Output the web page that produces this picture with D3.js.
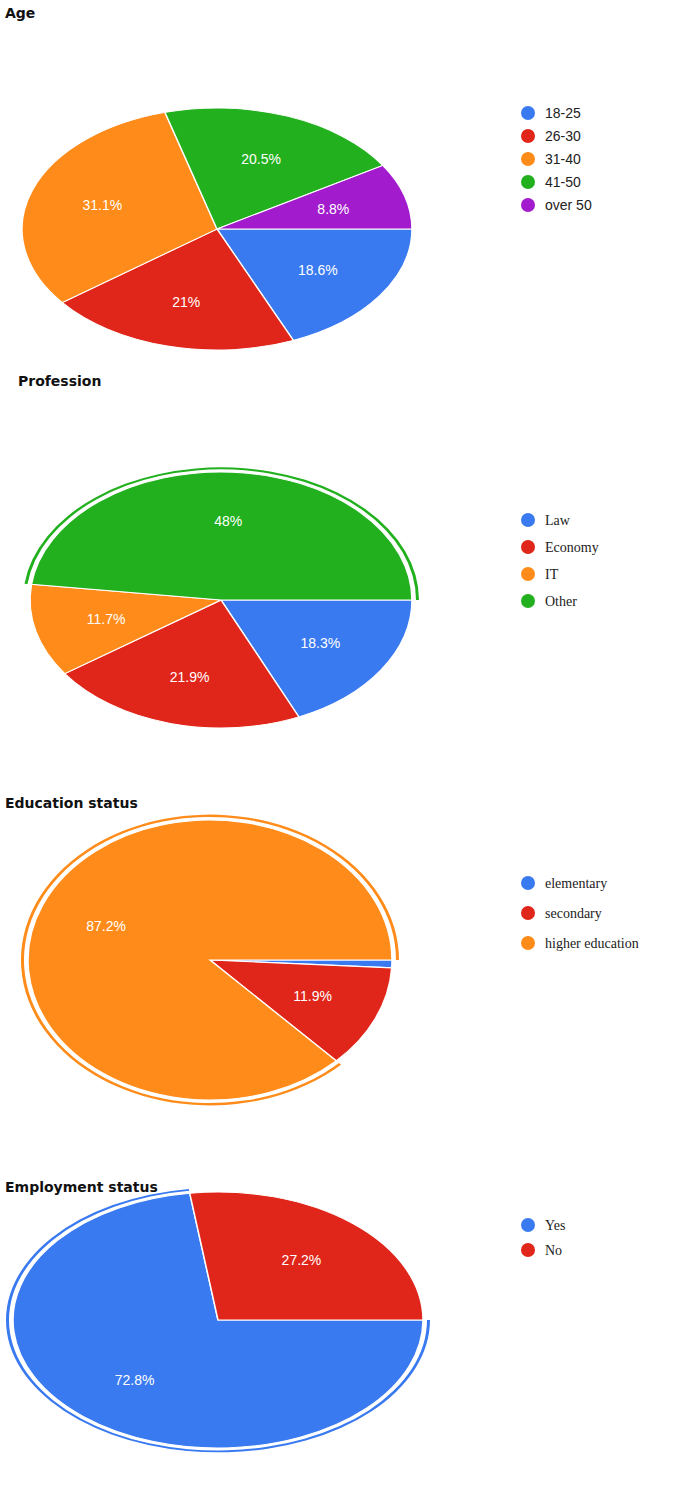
<!DOCTYPE html>
<html><head><meta charset="utf-8">
<script src="https://cdn.jsdelivr.net/npm/d3@7"></script>
<style>body{margin:0;background:#fff}</style></head>
<body><svg id="c" width="685" height="1496"></svg>
<script>
const ageLabels=["18-25","26-30","31-40","41-50","over 50"];
const ageValues=[18.6,21,31.1,20.5,8.8];
const profLabels=["Law","Economy","IT","Other"];
const profValues=[18.3,21.9,11.7,48];
const eduLabels=["elementary","secondary","higher education"];
const eduValues=[0.9,11.9,87.2];
const empLabels=["Yes","No"];
const empValues=[72.8,27.2];
const colors=["#3a7af0","#e0261a","#ff8c1a","#22b01e","#a21bcc"];
const svg=d3.select("#c");
function chart(o){
  svg.append("text").attr("x",o.tx).attr("y",o.ty).text(o.title)
    .attr("font-family","DejaVu Sans").attr("font-weight","bold").attr("font-size",14).attr("fill","#111");
  const g=svg.append("g").attr("transform",`translate(${o.cx},${o.cy}) scale(1,${o.ry/o.rx})`);
  const pie=d3.pie().sort(null).value(d=>d).startAngle(Math.PI/2).endAngle(Math.PI/2+2*Math.PI);
  const arcs=pie(o.values);
  const arc=d3.arc().innerRadius(0).outerRadius(o.rx);
  g.selectAll("path.s").data(arcs).join("path").attr("d",arc)
    .attr("fill",(d,i)=>colors[i]).attr("stroke","#fff").attr("stroke-width",1.5);
  if(o.hl!=null){
    const a=arcs[o.hl];
    g.append("path").attr("d",d3.arc().innerRadius(o.rx+4).outerRadius(o.rx+7)(a)).attr("fill",colors[o.hl]);
  }
  arcs.forEach((a,i)=>{
    if(o.values[i]<3) return;
    const m=(a.startAngle+a.endAngle)/2, r=o.rx*0.62;
    svg.append("text").attr("x",o.cx+r*Math.sin(m)).attr("y",o.cy-r*Math.cos(m)*o.ry/o.rx+5)
      .attr("text-anchor","middle").attr("fill","#fff").attr("font-family","Liberation Sans").attr("font-size",14)
      .text(o.values[i]+"%");
  });
  o.labels.forEach((l,i)=>{
    const y=o.ly+i*o.ls;
    svg.append("circle").attr("cx",528).attr("cy",y).attr("r",7).attr("fill",colors[i]);
    svg.append("text").attr("x",545).attr("y",y+5).text(l).attr("font-family",o.lf).attr("font-size",14).attr("fill","#222");
  });
}
chart({title:"Age",tx:5,ty:18,cx:217,cy:229,rx:195,ry:121,values:ageValues,labels:ageLabels,ly:113,ls:23,lf:"Liberation Sans"});
chart({title:"Profession",tx:18,ty:386,cx:221,cy:600,rx:191,ry:128,values:profValues,labels:profLabels,ly:520,ls:27,lf:"Liberation Serif",hl:3});
chart({title:"Education status",tx:5,ty:808,cx:210,cy:960,rx:182,ry:140,values:eduValues,labels:eduLabels,ly:883,ls:30,lf:"Liberation Serif",hl:2});
chart({title:"Employment status",tx:5,ty:1192,cx:218,cy:1320,rx:205,ry:128,values:empValues,labels:empLabels,ly:1225,ls:25,lf:"Liberation Serif",hl:0});
</script></body></html>
